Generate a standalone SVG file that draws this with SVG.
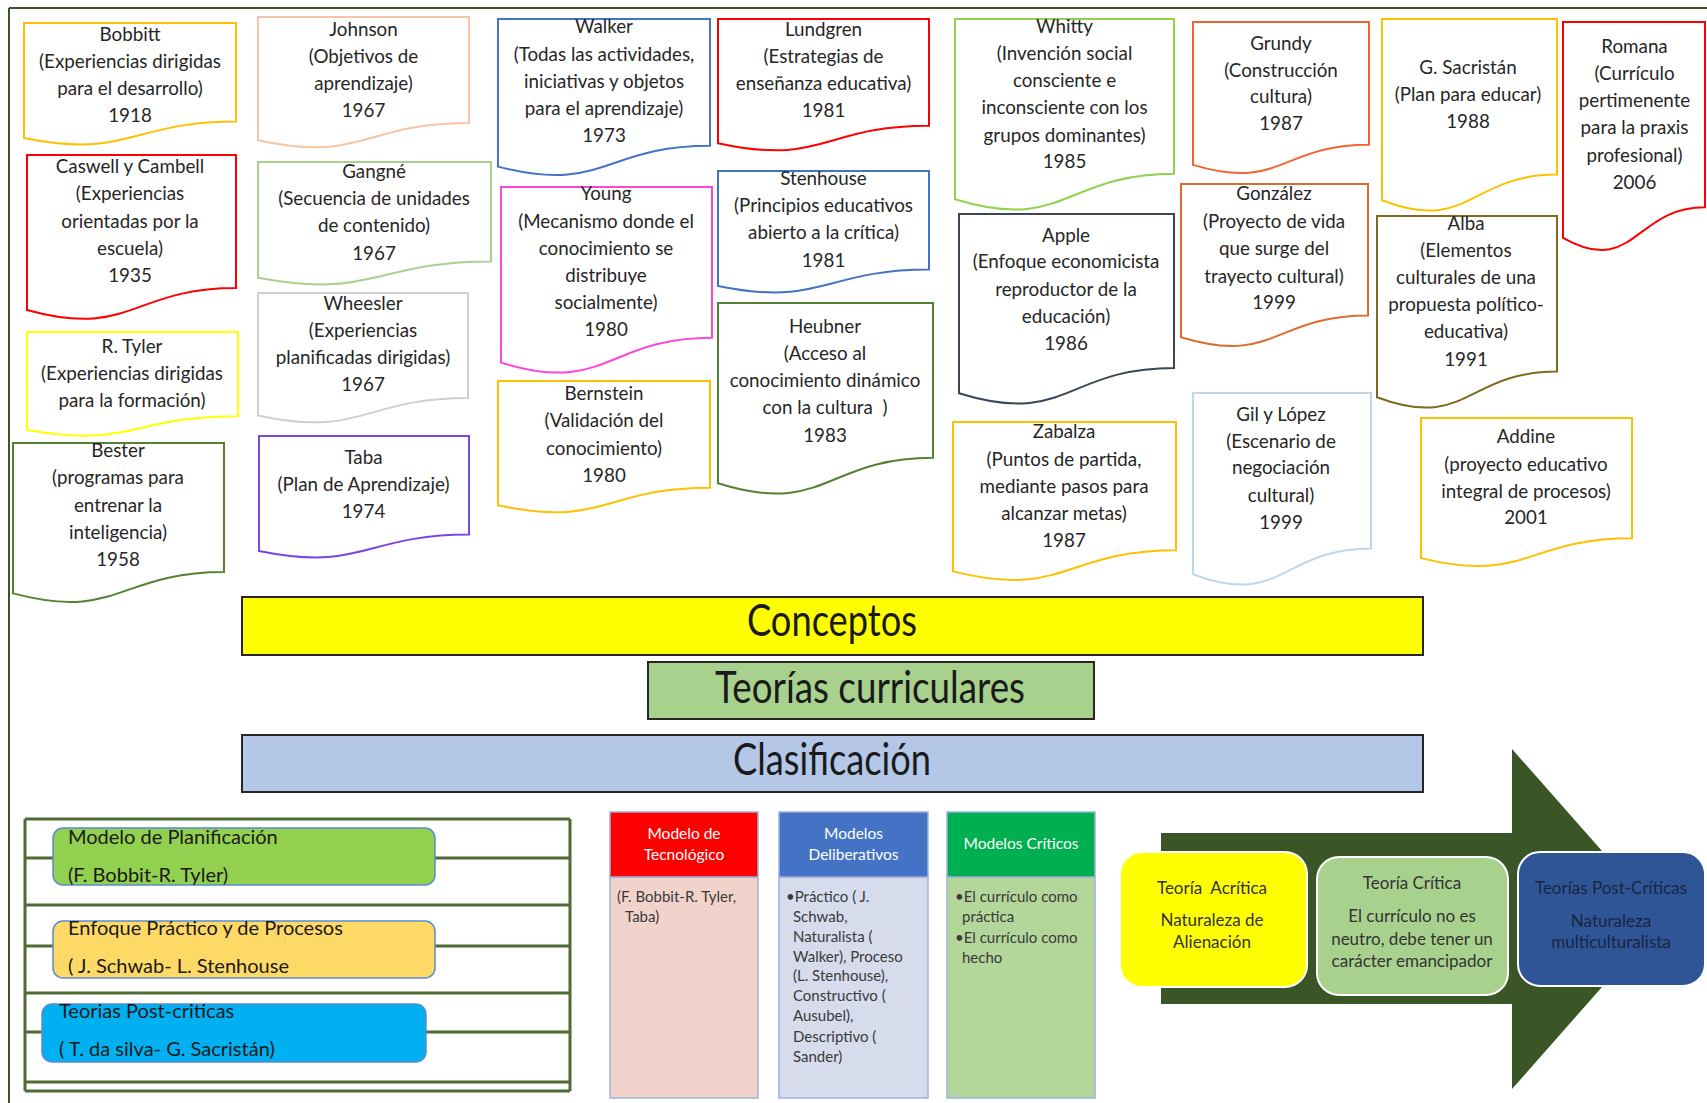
<svg xmlns="http://www.w3.org/2000/svg" width="1707" height="1103" viewBox="0 0 1707 1103">
  <style>
    .doc { fill: #ffffff; stroke-width: 2; }
    .dt { font-family: Lato, "Liberation Sans", sans-serif; font-size: 18.8px; fill: #262626; text-anchor: middle; }
    .bar { stroke: #262626; stroke-width: 2; }
    .bt { font-family: Lato, "Liberation Sans", sans-serif; font-size: 44px; fill: #1a1a1a; text-anchor: middle; }
    .rule { stroke: #4f6b34; stroke-width: 3; }
    .pill { stroke: #5b8bd0; stroke-width: 1.5; }
    .pt { font-family: Lato, "Liberation Sans", sans-serif; font-size: 20px; fill: #1a1a1a; }
    .colhead { stroke: #9db3de; stroke-width: 1.5; }
    .ht { font-family: Lato, "Liberation Sans", sans-serif; font-size: 15.5px; fill: #ffffff; text-anchor: middle; }
    .ct { font-family: Lato, "Liberation Sans", sans-serif; font-size: 15px; fill: #3a3a3a; }
    .stage { stroke: #ffffff; stroke-width: 2; }
    .st { font-family: Lato, "Liberation Sans", sans-serif; font-size: 17px; fill: #333333; text-anchor: middle; }
  </style>

  <!-- page frame -->
  <g id="frame" fill="none" stroke="#385723" stroke-width="2">
    <line x1="9" y1="8" x2="1707" y2="8"/>
    <line x1="9" y1="8" x2="9" y2="1103"/>
  </g>

  <!-- author cards (document shapes) -->
  <g id="bobbitt">
    <path class="doc" stroke="#ffc000" d="M24,23 H236 V121.6 C130,121.6 130,159.3 24,137.9 Z"/>
    <text class="dt"><tspan x="130" y="41">Bobbitt</tspan><tspan x="130" y="68">(Experiencias dirigidas</tspan><tspan x="130" y="95">para el desarrollo)</tspan><tspan x="130" y="122">1918</tspan></text>
  </g>
  <g id="johnson">
    <path class="doc" stroke="#f7c4a5" d="M258,17 H469 V122.9 C363.5,122.9 363.5,163.3 258,140.3 Z"/>
    <text class="dt"><tspan x="363.5" y="36">Johnson</tspan><tspan x="363.5" y="63">(Objetivos de</tspan><tspan x="363.5" y="90">aprendizaje)</tspan><tspan x="363.5" y="117">1967</tspan></text>
  </g>
  <g id="caswell">
    <path class="doc" stroke="#ff0000" d="M27,155 H236 V288.1 C131.5,288.1 131.5,338.9 27,310 Z"/>
    <text class="dt"><tspan x="130" y="173">Caswell y Cambell</tspan><tspan x="130" y="200">(Experiencias</tspan><tspan x="130" y="228">orientadas por la</tspan><tspan x="130" y="255">escuela)</tspan><tspan x="130" y="282">1935</tspan></text>
  </g>
  <g id="gangne">
    <path class="doc" stroke="#a9d18e" d="M258,162 H491 V261.4 C374.5,261.4 374.5,299.4 258,277.8 Z"/>
    <text class="dt"><tspan x="374" y="178">Gangné</tspan><tspan x="374" y="205">(Secuencia de unidades</tspan><tspan x="374" y="232">de contenido)</tspan><tspan x="374" y="260">1967</tspan></text>
  </g>
  <g id="wheesler">
    <path class="doc" stroke="#d0cece" d="M258,293 H468 V398.1 C363,398.1 363,438.1 258,415.4 Z"/>
    <text class="dt"><tspan x="363" y="310">Wheesler</tspan><tspan x="363" y="337">(Experiencias</tspan><tspan x="363" y="364">planificadas dirigidas)</tspan><tspan x="363" y="391">1967</tspan></text>
  </g>
  <g id="tyler">
    <path class="doc" stroke="#ffff00" d="M27,332 H238 V416.2 C132.5,416.2 132.5,448.3 27,430.1 Z"/>
    <text class="dt"><tspan x="132" y="353">R. Tyler</tspan><tspan x="132" y="380">(Experiencias dirigidas</tspan><tspan x="132" y="407">para la formación)</tspan></text>
  </g>
  <g id="bester">
    <path class="doc" stroke="#548235" d="M13,443 H224 V572.1 C118.5,572.1 118.5,621.4 13,593.4 Z"/>
    <text class="dt"><tspan x="118" y="457">Bester</tspan><tspan x="118" y="484">(programas para</tspan><tspan x="118" y="512">entrenar la</tspan><tspan x="118" y="539">inteligencia)</tspan><tspan x="118" y="566">1958</tspan></text>
  </g>
  <g id="taba">
    <path class="doc" stroke="#7b45e0" d="M259,436 H469 V534.6 C364,534.6 364,572.3 259,550.9 Z"/>
    <text class="dt"><tspan x="363.5" y="464">Taba</tspan><tspan x="363.5" y="491">(Plan de Aprendizaje)</tspan><tspan x="363.5" y="518">1974</tspan></text>
  </g>
  <g id="walker">
    <path class="doc" stroke="#4472c4" d="M498,19 H710 V145.7 C604,145.7 604,194.1 498,166.6 Z"/>
    <text class="dt"><tspan x="604" y="33">Walker</tspan><tspan x="604" y="61">(Todas las actividades,</tspan><tspan x="604" y="88">iniciativas y objetos</tspan><tspan x="604" y="115">para el aprendizaje)</tspan><tspan x="604" y="142">1973</tspan></text>
  </g>
  <g id="lundgren">
    <path class="doc" stroke="#ff0000" d="M718,19 H929 V125.7 C823.5,125.7 823.5,166.4 718,143.2 Z"/>
    <text class="dt"><tspan x="823.5" y="36">Lundgren</tspan><tspan x="823.5" y="63">(Estrategias de</tspan><tspan x="823.5" y="90">enseñanza educativa)</tspan><tspan x="823.5" y="117">1981</tspan></text>
  </g>
  <g id="young">
    <path class="doc" stroke="#ff45d5" d="M501,187 H712 V337.8 C606.5,337.8 606.5,395.3 501,362.6 Z"/>
    <text class="dt"><tspan x="606" y="200">Young</tspan><tspan x="606" y="228">(Mecanismo donde el</tspan><tspan x="606" y="255">conocimiento se</tspan><tspan x="606" y="282">distribuye</tspan><tspan x="606" y="309">socialmente)</tspan><tspan x="606" y="336">1980</tspan></text>
  </g>
  <g id="stenhouse">
    <path class="doc" stroke="#4472c4" d="M718,171 H929 V269.6 C823.5,269.6 823.5,307.3 718,285.9 Z"/>
    <text class="dt"><tspan x="823.5" y="185">Stenhouse</tspan><tspan x="823.5" y="212">(Principios educativos</tspan><tspan x="823.5" y="239">abierto a la crítica)</tspan><tspan x="823.5" y="267">1981</tspan></text>
  </g>
  <g id="heubner">
    <path class="doc" stroke="#548235" d="M718,303 H933 V457.8 C825.5,457.8 825.5,516.8 718,483.3 Z"/>
    <text class="dt" xml:space="preserve"><tspan x="825" y="333">Heubner</tspan><tspan x="825" y="360">(Acceso al</tspan><tspan x="825" y="387">conocimiento dinámico</tspan><tspan x="825" y="414">con la cultura  )</tspan><tspan x="825" y="442">1983</tspan></text>
  </g>
  <g id="bernstein">
    <path class="doc" stroke="#ffc000" d="M498,381 H710 V487.7 C604,487.7 604,528.4 498,505.2 Z"/>
    <text class="dt"><tspan x="604" y="400">Bernstein</tspan><tspan x="604" y="427">(Validación del</tspan><tspan x="604" y="455">conocimiento)</tspan><tspan x="604" y="482">1980</tspan></text>
  </g>
  <g id="whitty">
    <path class="doc" stroke="#92d050" d="M955,19 H1174 V173.8 C1064.5,173.8 1064.5,232.8 955,199.3 Z"/>
    <text class="dt"><tspan x="1064.5" y="33">Whitty</tspan><tspan x="1064.5" y="60">(Invención social</tspan><tspan x="1064.5" y="87">consciente e</tspan><tspan x="1064.5" y="114">inconsciente con los</tspan><tspan x="1064.5" y="142">grupos dominantes)</tspan><tspan x="1064.5" y="168">1985</tspan></text>
  </g>
  <g id="grundy">
    <path class="doc" stroke="#f26430" d="M1193,22 H1369 V144.7 C1281,144.7 1281,191.5 1193,164.9 Z"/>
    <text class="dt"><tspan x="1281" y="50">Grundy</tspan><tspan x="1281" y="77">(Construcción</tspan><tspan x="1281" y="103">cultura)</tspan><tspan x="1281" y="130">1987</tspan></text>
  </g>
  <g id="sacristan">
    <path class="doc" stroke="#ffc000" d="M1382,19 H1557 V174.6 C1469.5,174.6 1469.5,234 1382,200.2 Z"/>
    <text class="dt"><tspan x="1468" y="74">G. Sacristán</tspan><tspan x="1468" y="101">(Plan para educar)</tspan><tspan x="1468" y="128">1988</tspan></text>
  </g>
  <g id="romana">
    <path class="doc" stroke="#ff0000" d="M1563,22 H1705 V207.3 C1634,207.3 1634,278 1563,237.8 Z"/>
    <text class="dt"><tspan x="1634.5" y="53">Romana</tspan><tspan x="1634.5" y="80">(Currículo</tspan><tspan x="1634.5" y="107">pertimenente</tspan><tspan x="1634.5" y="134">para la praxis</tspan><tspan x="1634.5" y="162">profesional)</tspan><tspan x="1634.5" y="189">2006</tspan></text>
  </g>
  <g id="gonzalez">
    <path class="doc" stroke="#d96d2e" d="M1181,184 H1368 V315.5 C1274.5,315.5 1274.5,365.7 1181,337.2 Z"/>
    <text class="dt"><tspan x="1274" y="200">González</tspan><tspan x="1274" y="228">(Proyecto de vida</tspan><tspan x="1274" y="255">que surge del</tspan><tspan x="1274" y="283">trayecto cultural)</tspan><tspan x="1274" y="309">1999</tspan></text>
  </g>
  <g id="apple">
    <path class="doc" stroke="#3a4556" d="M959,214 H1174 V368 C1066.5,368 1066.5,426.7 959,393.3 Z"/>
    <text class="dt"><tspan x="1066" y="242">Apple</tspan><tspan x="1066" y="268">(Enfoque economicista</tspan><tspan x="1066" y="296">reproductor de la</tspan><tspan x="1066" y="323">educación)</tspan><tspan x="1066" y="350">1986</tspan></text>
  </g>
  <g id="alba">
    <path class="doc" stroke="#7f6a1e" d="M1377,216 H1557 V371.6 C1467,371.6 1467,431 1377,397.2 Z"/>
    <text class="dt"><tspan x="1466" y="230">Alba</tspan><tspan x="1466" y="257">(Elementos</tspan><tspan x="1466" y="284">culturales de una</tspan><tspan x="1466" y="311">propuesta político-</tspan><tspan x="1466" y="338">educativa)</tspan><tspan x="1466" y="366">1991</tspan></text>
  </g>
  <g id="zabalza">
    <path class="doc" stroke="#ffc000" d="M953,422 H1176 V550.3 C1064.5,550.3 1064.5,599.3 953,571.4 Z"/>
    <text class="dt"><tspan x="1064" y="438">Zabalza</tspan><tspan x="1064" y="466">(Puntos de partida,</tspan><tspan x="1064" y="493">mediante pasos para</tspan><tspan x="1064" y="520">alcanzar metas)</tspan><tspan x="1064" y="547">1987</tspan></text>
  </g>
  <g id="gil-lopez">
    <path class="doc" stroke="#bdd7ee" d="M1193,393 H1371 V548.6 C1282,548.6 1282,608 1193,574.2 Z"/>
    <text class="dt"><tspan x="1281" y="421">Gil y López</tspan><tspan x="1281" y="448">(Escenario de</tspan><tspan x="1281" y="474">negociación</tspan><tspan x="1281" y="502">cultural)</tspan><tspan x="1281" y="529">1999</tspan></text>
  </g>
  <g id="addine">
    <path class="doc" stroke="#ffc000" d="M1421,418 H1632 V538.3 C1526.5,538.3 1526.5,584.2 1421,558.1 Z"/>
    <text class="dt"><tspan x="1526" y="443">Addine</tspan><tspan x="1526" y="471">(proyecto educativo</tspan><tspan x="1526" y="498">integral de procesos)</tspan><tspan x="1526" y="524">2001</tspan></text>
  </g>

  <!-- title bars -->
  <g id="conceptos">
    <rect class="bar" x="242" y="597" width="1181" height="58" fill="#ffff00"/>
    <text class="bt" x="832" y="636" textLength="170" lengthAdjust="spacingAndGlyphs">Conceptos</text>
  </g>
  <g id="teorias-curriculares">
    <rect class="bar" x="648" y="662" width="446" height="57" fill="#a9d18e"/>
    <text class="bt" x="870" y="703" textLength="310" lengthAdjust="spacingAndGlyphs">Teorías curriculares</text>
  </g>
  <g id="clasificacion">
    <rect class="bar" x="242" y="735" width="1181" height="57" fill="#b4c7e7"/>
    <text class="bt" x="832" y="775" textLength="198" lengthAdjust="spacingAndGlyphs">Clasificación</text>
  </g>

  <!-- ruled panel with the three approaches -->
  <g id="approach-panel" fill="none">
    <line class="rule" x1="25" y1="819" x2="570" y2="819"/>
    <line class="rule" x1="25" y1="858" x2="570" y2="858"/>
    <line class="rule" x1="25" y1="905" x2="570" y2="905"/>
    <line class="rule" x1="25" y1="946" x2="570" y2="946"/>
    <line class="rule" x1="25" y1="993" x2="570" y2="993"/>
    <line class="rule" x1="25" y1="1032" x2="570" y2="1032"/>
    <line class="rule" x1="25" y1="1082" x2="570" y2="1082"/>
    <line class="rule" x1="25" y1="1091" x2="570" y2="1091"/>
    <line class="rule" x1="25" y1="819" x2="25" y2="1091"/>
    <line class="rule" x1="570" y1="819" x2="570" y2="1091"/>
  </g>
  <g id="modelo-planificacion">
    <rect class="pill" x="53" y="828" width="382" height="57" rx="10" fill="#92d050"/>
    <text class="pt"><tspan x="68" y="844">Modelo de Planificación</tspan><tspan x="68" y="882">(F. Bobbit-R. Tyler)</tspan></text>
  </g>
  <g id="enfoque-practico">
    <rect class="pill" x="53" y="921" width="382" height="57" rx="10" fill="#ffd966"/>
    <text class="pt"><tspan x="68" y="935">Enfoque Práctico y de Procesos</tspan><tspan x="68" y="973">( J. Schwab- L. Stenhouse</tspan></text>
  </g>
  <g id="teorias-postcriticas">
    <rect class="pill" x="42" y="1004" width="384" height="58" rx="10" fill="#00b0f0"/>
    <text class="pt"><tspan x="59" y="1018">Teorias Post-criticas</tspan><tspan x="59" y="1056">( T. da silva- G. Sacristán)</tspan></text>
  </g>

  <!-- model columns -->
  <g id="modelo-tecnologico">
    <rect class="colhead" x="610" y="877" width="148" height="221" fill="#f2d3cb"/>
    <rect class="colhead" x="610" y="812" width="148" height="65" fill="#ff0000"/>
    <text class="ht"><tspan x="684" y="839">Modelo de</tspan><tspan x="684" y="860">Tecnológico</tspan></text>
    <text class="ct"><tspan x="617" y="902">(F. Bobbit-R. Tyler,</tspan><tspan x="625" y="922">Taba)</tspan></text>
  </g>
  <g id="modelos-deliberativos">
    <rect class="colhead" x="779" y="877" width="149" height="221" fill="#d6dcec"/>
    <rect class="colhead" x="779" y="812" width="149" height="65" fill="#4472c4"/>
    <text class="ht"><tspan x="853.5" y="839">Modelos</tspan><tspan x="853.5" y="860">Deliberativos</tspan></text>
    <text class="ct"><tspan x="786" y="902">•Práctico ( J.</tspan><tspan x="793" y="922">Schwab,</tspan><tspan x="793" y="942">Naturalista (</tspan><tspan x="793" y="962">Walker), Proceso</tspan><tspan x="793" y="981">(L. Stenhouse),</tspan><tspan x="793" y="1001">Constructivo (</tspan><tspan x="793" y="1021">Ausubel),</tspan><tspan x="793" y="1042">Descriptivo (</tspan><tspan x="793" y="1062">Sander)</tspan></text>
  </g>
  <g id="modelos-criticos">
    <rect class="colhead" x="947" y="877" width="148" height="221" fill="#b3d69a"/>
    <rect class="colhead" x="947" y="812" width="148" height="65" fill="#00b050"/>
    <text class="ht" x="1021" y="849">Modelos Críticos</text>
    <text class="ct"><tspan x="955" y="902">•El currículo como</tspan><tspan x="962" y="922">práctica</tspan><tspan x="955" y="943">•El currículo como</tspan><tspan x="962" y="963">hecho</tspan></text>
  </g>

  <g id="connectors"/>

  <!-- progression arrow with the three theory stages -->
  <g id="progress-arrow">
    <polygon points="1161,833 1512,833 1512,749 1662,919 1512,1089 1512,1004 1161,1004" fill="#3a5526"/>
  </g>
  <g id="teoria-acritica">
    <rect class="stage" x="1120" y="852" width="187" height="135" rx="22" fill="#ffff00"/>
    <text class="st"><tspan x="1212" y="894" xml:space="preserve">Teoría  Acrítica</tspan><tspan x="1212" y="926">Naturaleza de</tspan><tspan x="1212" y="948">Alienación</tspan></text>
  </g>
  <g id="teoria-critica">
    <rect class="stage" x="1317" y="857" width="191" height="138" rx="22" fill="#a9d18e"/>
    <text class="st"><tspan x="1412" y="889">Teoría Crítica</tspan><tspan x="1412" y="922">El currículo no es</tspan><tspan x="1412" y="945">neutro, debe tener un</tspan><tspan x="1412" y="967">carácter emancipador</tspan></text>
  </g>
  <g id="teorias-post-criticas-stage">
    <rect class="stage" x="1518" y="852" width="187" height="134" rx="22" fill="#2f5597"/>
    <text class="st" style="fill:#182640"><tspan x="1611" y="894">Teorías Post-Críticas</tspan><tspan x="1611" y="927">Naturaleza</tspan><tspan x="1611" y="948">multiculturalista</tspan></text>
  </g>
</svg>
